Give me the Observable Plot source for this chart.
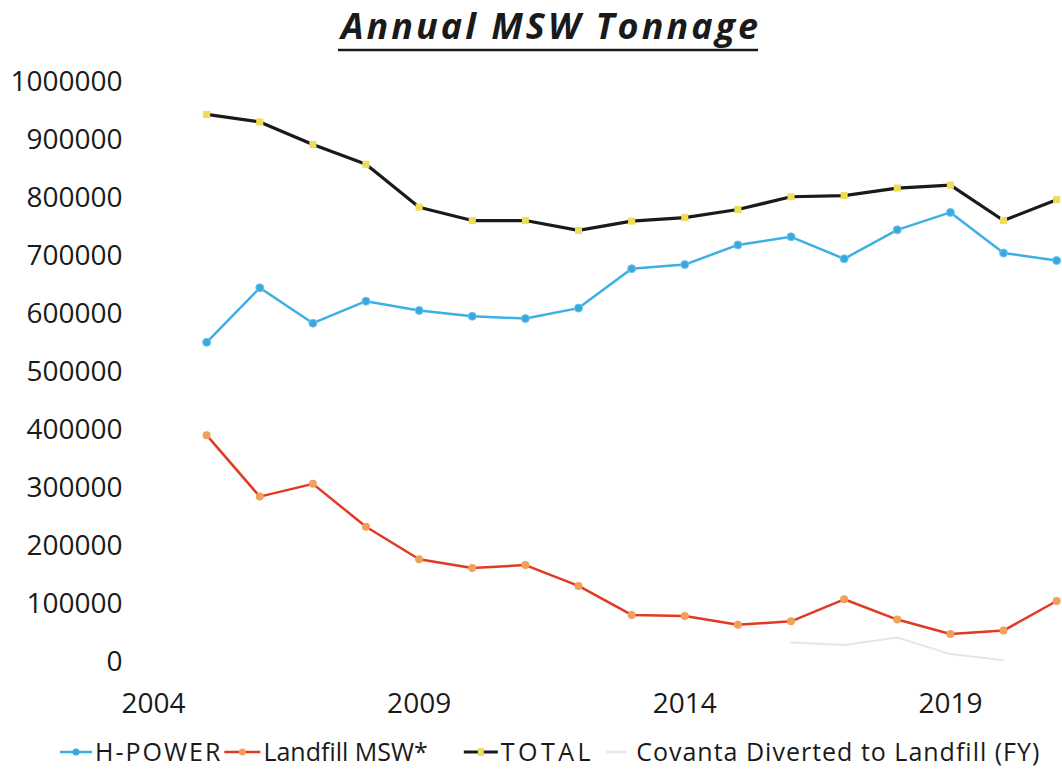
<!DOCTYPE html>
<html>
<head>
<meta charset="utf-8">
<script src="https://cdn.jsdelivr.net/npm/d3@7"></script>
<script src="https://cdn.jsdelivr.net/npm/@observablehq/plot@0.6"></script>
<style>
  body { margin: 0; background: #fff; width: 1062px; height: 772px; overflow: hidden; font-family: "Open Sans", sans-serif; }
  #title, #legend { display: block; }
  #chart svg { display: block; overflow: visible; }
</style>
</head>
<body>
<svg id="title" width="1062" height="60">
  <text id="titleText" x="551" y="39" text-anchor="middle" letter-spacing="3" font-family="Open Sans, sans-serif" font-size="36" font-weight="bold" font-style="italic" fill="#1a1a1a">Annual MSW Tonnage</text>
  <line id="titleLine" x1="340" x2="762" y1="50" y2="50" stroke="#1a1a1a" stroke-width="2.5"></line>
</svg>
<div id="chart"></div>
<svg id="legend" width="1062" height="42"></svg>
<script>
// ---- Data ----
const years = [2005, 2006, 2007, 2008, 2009, 2010, 2011, 2012, 2013, 2014, 2015, 2016, 2017, 2018, 2019, 2020, 2021];
const hpower = [552000, 646000, 585000, 623000, 607000, 597000, 593000, 611000, 679000, 686000, 720000, 734000, 696000, 746000, 776000, 706000, 693000];
const landfill = [392000, 286000, 308000, 234000, 178000, 163000, 168000, 132000, 82000, 80000, 65000, 71000, 109000, 74000, 49000, 55000, 106000];
const total = [945000, 932000, 893000, 859000, 785000, 762000, 762000, 745000, 761000, 767000, 781000, 803000, 805000, 818000, 823000, 762000, 798000];
const covantaYears = [2016, 2017, 2018, 2019, 2020];
const covanta = [34500, 30000, 43000, 14500, 4000];
const xTicks = [2004, 2009, 2014, 2019];
const yTicks = [0, 100000, 200000, 300000, 400000, 500000, 600000, 700000, 800000, 900000, 1000000];
const seriesNames = ["H-POWER", "Landfill MSW*", "TOTAL", "Covanta Diverted to Landfill (FY)"];

const toRows = (xs, vs) => xs.map((x, i) => ({year: x, value: vs[i]}));
const hpRows = toRows(years, hpower);
const lfRows = toRows(years, landfill);
const totRows = toRows(years, total);
const covRows = toRows(covantaYears, covanta);

const colors = {
  hLine: "#3cb0e2", hDot: "#3aa8dc",
  lLine: "#e03a22", lDot: "#f0a05a",
  tLine: "#1a1a1a", tDot: "#efdc58",
  cLine: "#e6e6e6"
};

// Title underline fitted to the text
const tt = document.getElementById("titleText").getBBox();
const tl = document.getElementById("titleLine");
tl.setAttribute("x1", tt.x);
tl.setAttribute("x2", tt.x + tt.width - 3);

const chart = Plot.plot({
  width: 1062,
  height: 670,
  marginLeft: 153,
  marginRight: 0,
  marginTop: 22,
  marginBottom: 68,
  style: {fontFamily: '"Open Sans", sans-serif', fontSize: "28px", color: "#1a1a1a", background: "transparent", overflow: "visible"},
  x: {domain: [2004, 2021.11], ticks: xTicks, tickFormat: d => String(d), tickSize: 0, tickPadding: 31, label: null},
  y: {domain: [0, 1000000], ticks: yTicks, tickFormat: d => String(d), tickSize: 0, tickPadding: 31, label: null},
  marks: [
    Plot.line(covRows, {x: "year", y: "value", stroke: colors.cLine, strokeWidth: 2}),
    Plot.line(hpRows, {x: "year", y: "value", stroke: colors.hLine, strokeWidth: 2.5}),
    Plot.dot(hpRows, {x: "year", y: "value", r: 4, fill: colors.hDot, stroke: "#6cc6ee", strokeWidth: 1}),
    Plot.line(lfRows, {x: "year", y: "value", stroke: colors.lLine, strokeWidth: 2.5}),
    Plot.dot(lfRows, {x: "year", y: "value", r: 4, fill: colors.lDot}),
    Plot.line(totRows, {x: "year", y: "value", stroke: colors.tLine, strokeWidth: 3.2}),
    Plot.dot(totRows, {x: "year", y: "value", symbol: "square", r: 4, fill: colors.tDot})
  ]
});
document.getElementById("chart").appendChild(chart);

// ---- Legend ----
const legend = d3.select("#legend");
const ly = 22;
let cursor = 60;
const items = [
  {name: seriesNames[0], w: 32, line: colors.hLine, dot: colors.hDot, sym: "circle", ls: 2},
  {name: seriesNames[1], w: 36, line: colors.lLine, dot: colors.lDot, sym: "circle", ls: 0},
  {name: seriesNames[2], w: 34, line: colors.tLine, dot: colors.tDot, sym: "square", ls: 3.5},
  {name: seriesNames[3], w: 20, line: colors.cLine, dot: null, sym: null, ls: 1}
];
const gaps = [0, 2, 36, 12];
items.forEach((it, i) => {
  cursor += gaps[i];
  const x0 = cursor, x1 = cursor + it.w;
  legend.append("line").attr("x1", x0).attr("x2", x1).attr("y1", ly).attr("y2", ly)
    .attr("stroke", it.line).attr("stroke-width", it.sym === "square" ? 3 : 2.5);
  const cx = (x0 + x1) / 2;
  if (it.sym === "circle") legend.append("circle").attr("cx", cx).attr("cy", ly).attr("r", 3.5).attr("fill", it.dot);
  if (it.sym === "square") legend.append("rect").attr("x", cx - 3).attr("y", ly - 4).attr("width", 6).attr("height", 8).attr("fill", it.dot);
  const tx = x1 + (it.sym ? 3 : 10);
  const t = legend.append("text").attr("x", tx).attr("y", ly + 9)
    .attr("font-family", "Open Sans, sans-serif").attr("font-size", 25).attr("fill", "#1a1a1a")
    .attr("letter-spacing", it.ls)
    .text(it.name);
  cursor = tx + t.node().getComputedTextLength();
});
</script>
</body>
</html>
